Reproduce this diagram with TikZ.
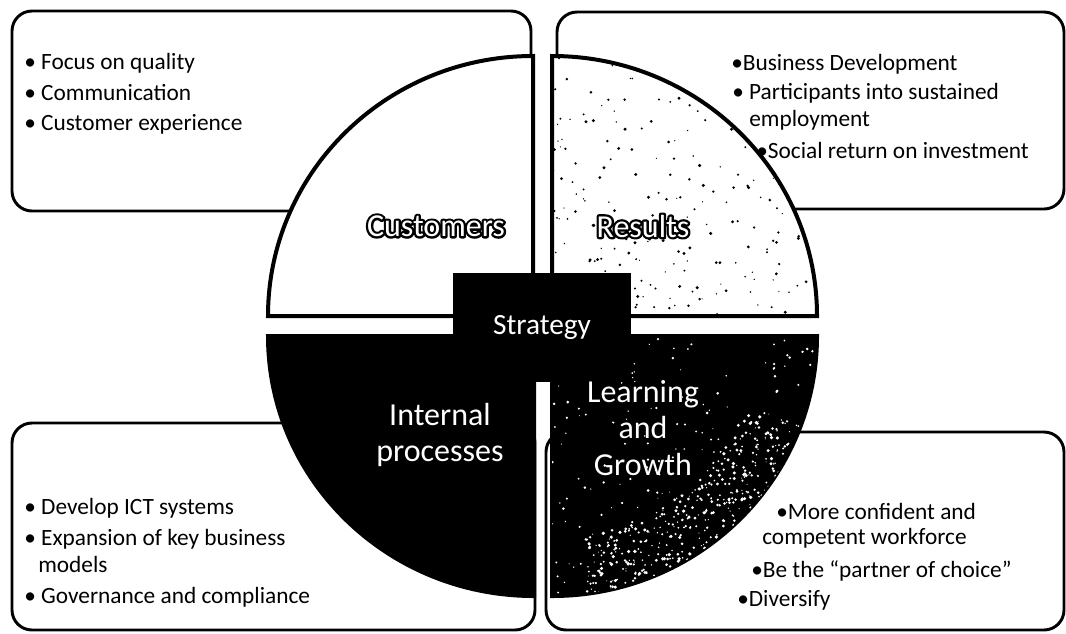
\documentclass[tikz,border=0pt]{standalone}
\usepackage{fontspec}
\setmainfont{Carlito}
\newcommand{\rimtext}[1]{\special{pdf:literal direct 1 Tr 1 j 3.4 w 0 0 0 RG}#1\special{pdf:literal direct 0 Tr 0 j 0.4 w}}
\tikzset{
  panel/.style={draw=black, line width=2.2pt, rounded corners=15pt},
  quarter/.style={draw=black, line width=3pt},
  item/.style={anchor=base west, inner sep=0pt, font=\fontsize{17.5}{21}\selectfont},
  bigword/.style={text=white, align=center, inner sep=0pt, font=\fontsize{24}{27.5}\selectfont},
  stratbox/.style={fill=black, text=white, minimum width=133.5pt, minimum height=81.75pt, inner sep=0pt, font=\fontsize{22}{26}\selectfont}
}

\begin{document}
\begin{tikzpicture}[x=0.75pt, y=0.75pt]
        \useasboundingbox (0,0) rectangle (1066,-633);
        % text panels behind the pie
        \draw[panel] (12,-11) rectangle (531,-211);
        \draw[panel] (557,-12) rectangle (1064,-209);
        \draw[panel] (12,-423) rectangle (535,-630);
        \draw[panel] (546,-432) rectangle (1064,-630);
        % the four quarters
        \filldraw[quarter, fill=white] (533,-316) -- (533,-56) arc[start angle=90, end angle=180, x radius=265, y radius=260] -- cycle;
        \filldraw[quarter, fill=white] (552,-316) -- (552,-56) arc[start angle=90, end angle=0, x radius=265, y radius=260] -- cycle;
        \filldraw[quarter, fill=black] (534,-336) -- (534,-596) arc[start angle=270, end angle=180, x radius=266, y radius=260] -- cycle;
        \filldraw[quarter, fill=black] (552,-336) -- (552,-596) arc[start angle=270, end angle=360, x radius=265, y radius=260] -- cycle;
        \pgfmathsetseed{42}
        \begin{scope}
          \clip (552,-316) -- (552,-56) arc[start angle=90, end angle=0, x radius=265, y radius=260] -- cycle;
          \foreach \k in {1,...,220}{
            \pgfmathsetmacro{\ra}{90*rnd}
            \pgfmathsetmacro{\rf}{rnd^0.7}
            \fill (552+265*\rf*cos \ra, -316+260*\rf*sin \ra) circle[radius=0.6+1.1*rnd];
          }
        \end{scope}
        \begin{scope}
          \clip (552,-336) -- (552,-596) arc[start angle=270, end angle=360, x radius=265, y radius=260] -- cycle;
          \foreach \k in {1,...,170}{
            \pgfmathsetmacro{\ra}{-90*rnd}
            \pgfmathsetmacro{\rf}{sqrt(rnd)}
            \fill[white] (552+265*\rf*cos \ra, -336+260*\rf*sin \ra) circle[radius=0.5+1.0*rnd];
          }
          \foreach \k in {1,...,380}{
            \pgfmathsetmacro{\ra}{-20-62*rnd}
            \pgfmathsetmacro{\rf}{0.78+0.24*rnd}
            \fill[white] (552+265*\rf*cos \ra, -336+260*\rf*sin \ra) circle[radius=0.5+1.3*rnd];
          }
        \end{scope}
        \node[stratbox] (strategy) at (542,-327.5) {Strategy};
        \node[bigword, text=black] (customersrim) at (436,-226) {\rimtext{Customers}};
        \node[bigword] (customers) at (436,-226) {Customers};
        \node[bigword, text=black] (resultsrim) at (643,-226) {\rimtext{Results}};
        \node[bigword] (results) at (643,-226) {Results};
        \node[bigword] (internal) at (440,-435) {Internal\\processes};
        \node[bigword] (learning) at (643,-428) {Learning\\and\\Growth};
        % bullet lines
        \foreach \txt/\x/\y [count=\i] in {{• Focus on quality}/24/69, {• Communication}/24/100, {• Customer experience}/24/130}
          \node[item] (cust\i) at (\x,-\y) {\txt};
        \foreach \txt/\x/\y [count=\i] in {{•Business Development}/731/70, {• Participants into sustained}/732/99, {employment}/749/126, {•Social return on investment}/756/158}
          \node[item] (res\i) at (\x,-\y) {\txt};
        \foreach \txt/\x/\y [count=\i] in {{• Develop ICT systems}/24/514, {• Expansion of key business}/24/545, {models}/38/572, {• Governance and compliance}/24/603}
          \node[item] (proc\i) at (\x,-\y) {\txt};
        \foreach \txt/\x/\y [count=\i] in {{•More confident and}/776/519, {competent workforce}/762/544, {•Be the “partner of choice”}/751/577, {•Diversify}/737/606}
          \node[item] (grow\i) at (\x,-\y) {\txt};
      \end{tikzpicture}
\end{document}
